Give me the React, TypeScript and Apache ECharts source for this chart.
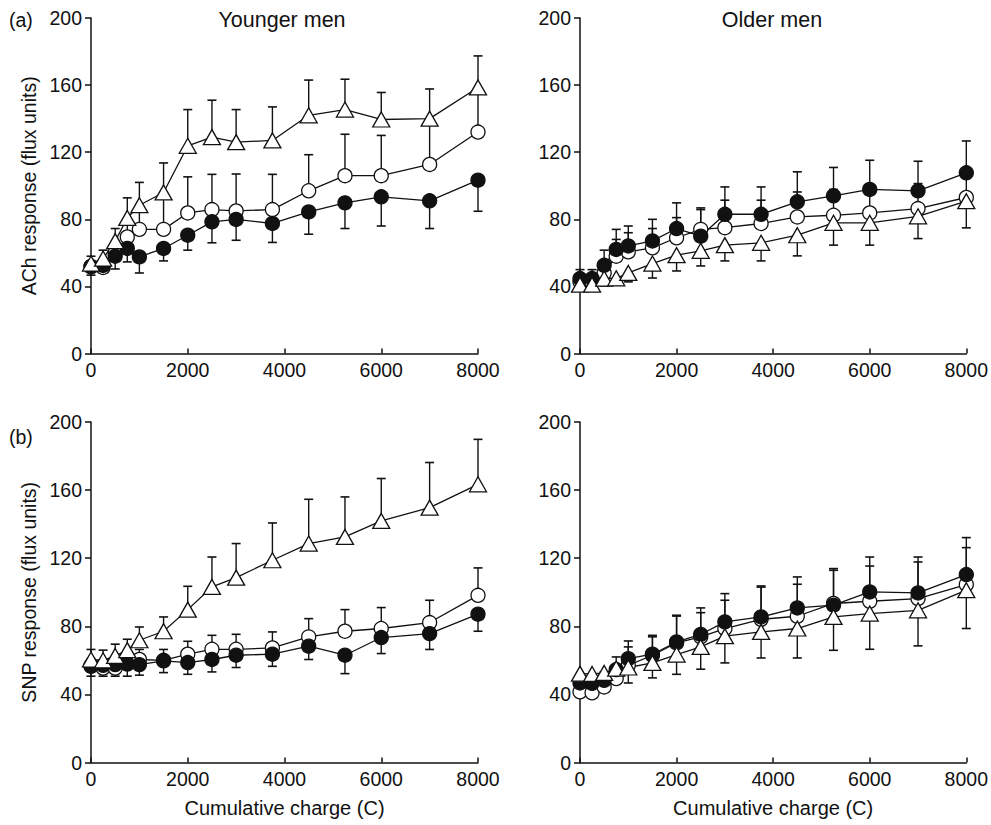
import React, { useEffect, useRef } from "react";
import * as echarts from "echarts";

// Cumulative charge (C) at which responses were measured
const CHARGE = [0, 250, 500, 750, 1000, 1500, 2000, 2500, 3000, 3750, 4500, 5250, 6000, 7000, 8000];

// (a) ACh response, younger men
const A_YOUNG_OPEN = [51.6, 51.3, 60, 69.5, 74, 74, 83.8, 85.8, 85, 85.8, 97, 106, 106, 112.7, 132];
const A_YOUNG_OPEN_SE = [3, 3, 5, 10, 12, 22, 21.5, 21, 22, 21, 21.5, 24.7, 24, 27, 24];
const A_YOUNG_FILLED = [52, 52.5, 58, 62.6, 57.6, 62.6, 70.5, 78.5, 79.9, 77.5, 84.4, 89.8, 93.4, 91, 103.3];
const A_YOUNG_FILLED_SE = [5.3, 4.5, 7.6, 8, 9.6, 7.4, 8.9, 12.5, 12.4, 11.3, 13.3, 15.3, 17.4, 16.5, 18.5];
const A_YOUNG_TRI = [53.6, 56.6, 67, 80.8, 88.4, 96, 123.8, 129, 126, 127, 142, 145.4, 139.5, 140, 158.6];
const A_YOUNG_TRI_SE = [4.4, 5, 7.5, 12, 13.6, 17.6, 21.6, 22, 19.4, 20, 21, 18.1, 16.1, 17.7, 18.8];

// (a) ACh response, older men
const A_OLD_OPEN = [42.7, 42.7, 48, 58, 60.6, 63, 69, 74, 75, 77.5, 81.4, 82.4, 83.8, 86.4, 93];
const A_OLD_OPEN_SE = [4, 4, 6, 10, 11.4, 11.5, 12, 11.8, 16.4, 13.9, 14.9, 15.4, 14, 14.9, 14];
const A_OLD_FILLED = [44.7, 44.7, 52.6, 62, 64.1, 67.1, 74.5, 69.9, 83, 83, 90.4, 94, 97.8, 97, 107.7];
const A_OLD_FILLED_SE = [5.3, 5.3, 9, 12, 11.9, 12.9, 15.3, 16.9, 16.3, 16.3, 17.9, 16.9, 17.4, 17.6, 19];
const A_OLD_TRI = [41, 41, 44.7, 44.8, 48, 53.6, 58.6, 61.2, 64.6, 66, 70.5, 77.9, 77.9, 81.8, 90.8];
const A_OLD_TRI_SE = [3.7, 3.5, 4.4, 3.8, 5.3, 8.6, 9.4, 9, 9.4, 10.8, 12.3, 13.3, 13.3, 13.3, 15.9];

// (b) SNP response, younger men
const B_YOUNG_OPEN = [57, 55.5, 55.5, 58.5, 60.5, 60, 63.6, 66.5, 66.5, 67.3, 73.8, 77.1, 78.7, 82.2, 98.2];
const B_YOUNG_OPEN_SE = [4, 4, 4, 5, 5.9, 6.4, 7.6, 8.2, 8.8, 9.4, 10.7, 12.7, 12.3, 13.1, 16.1];
const B_YOUNG_FILLED = [56.5, 57.1, 57.5, 57.8, 57.5, 59.7, 58.7, 60.5, 63, 63.6, 68.3, 63, 73.4, 75.7, 87.1];
const B_YOUNG_FILLED_SE = [5.8, 6.4, 6.8, 7.1, 6.2, 6.9, 6.9, 7.3, 7.2, 7.1, 7.8, 10.8, 9.4, 9.3, 10];
const B_YOUNG_TRI = [60.5, 60, 62.6, 66, 71.8, 77.1, 89.8, 103.1, 108.6, 118.8, 128.6, 132.5, 141.9, 149.7, 163.4];
const B_YOUNG_TRI_SE = [5.9, 6, 6.9, 6.4, 7.8, 8.4, 13.7, 17.6, 20, 21.9, 26, 23.5, 24.9, 26.5, 26.4];

// (b) SNP response, older men
const B_OLD_OPEN = [41.5, 40.9, 44.4, 49.3, 57.1, 63, 70.2, 73.8, 78.7, 84.1, 85.9, 93.4, 94.7, 96.3, 104.5];
const B_OLD_OPEN_SE = [4, 4, 4.5, 6, 10.8, 10.8, 15.8, 14.2, 16.6, 18.9, 18.8, 19.5, 20.7, 21.5, 21.7];
const B_OLD_FILLED = [46.7, 46.5, 48.3, 54.6, 61, 63.6, 70.8, 75.2, 82.6, 85.5, 90.8, 92.4, 100.2, 99.6, 110.4];
const B_OLD_FILLED_SE = [4, 4, 5, 7.4, 10.4, 11.1, 15.7, 15.6, 16.6, 18.2, 18.2, 21.5, 20.5, 21.1, 21.7];
const B_OLD_TRI = [52.2, 52, 52.6, 55.2, 55.8, 58.5, 63.4, 67.9, 74.2, 76.7, 78.7, 85.5, 87.5, 89.4, 101.2];
const B_OLD_TRI_SE = [4, 4, 4, 6, 9.1, 8.8, 11.6, 13.1, 15.7, 15.3, 17.3, 19.6, 21, 20.9, 22.5];

const PANEL_TITLES = ["Younger men", "Older men"];
const PANEL_LETTERS = ["(a)", "(b)"];
const Y_NAMES = ["ACh response (flux units)", "SNP response (flux units)"];
const X_NAME = "Cumulative charge (C)";

type SeriesSpec = { values: number[]; se: number[]; dir: number; kind: "open" | "filled" | "tri" };

const PANELS: SeriesSpec[][] = [
  [
    { values: A_YOUNG_OPEN, se: A_YOUNG_OPEN_SE, dir: 1, kind: "open" },
    { values: A_YOUNG_FILLED, se: A_YOUNG_FILLED_SE, dir: -1, kind: "filled" },
    { values: A_YOUNG_TRI, se: A_YOUNG_TRI_SE, dir: 1, kind: "tri" },
  ],
  [
    { values: A_OLD_OPEN, se: A_OLD_OPEN_SE, dir: 1, kind: "open" },
    { values: A_OLD_FILLED, se: A_OLD_FILLED_SE, dir: 1, kind: "filled" },
    { values: A_OLD_TRI, se: A_OLD_TRI_SE, dir: -1, kind: "tri" },
  ],
  [
    { values: B_YOUNG_OPEN, se: B_YOUNG_OPEN_SE, dir: 1, kind: "open" },
    { values: B_YOUNG_FILLED, se: B_YOUNG_FILLED_SE, dir: -1, kind: "filled" },
    { values: B_YOUNG_TRI, se: B_YOUNG_TRI_SE, dir: 1, kind: "tri" },
  ],
  [
    { values: B_OLD_OPEN, se: B_OLD_OPEN_SE, dir: 1, kind: "open" },
    { values: B_OLD_FILLED, se: B_OLD_FILLED_SE, dir: 1, kind: "filled" },
    { values: B_OLD_TRI, se: B_OLD_TRI_SE, dir: -1, kind: "tri" },
  ],
];

const INK = "#111";
const FONT = "Liberation Sans, Arial, sans-serif";

export default function App() {
  const ref = useRef<HTMLDivElement>(null);
  useEffect(() => {
    if (!ref.current) return;
    const chart = echarts.init(ref.current, undefined, { renderer: "svg" });

    const grids = [
      { left: 91, top: 18, width: 387, height: 335.5 },
      { left: 580, top: 18, width: 387, height: 335.5 },
      { left: 91, top: 422, width: 387, height: 340.5 },
      { left: 580, top: 422, width: 387, height: 340.5 },
    ];

    const xAxis = grids.map((_, i) => ({
      type: "value",
      gridIndex: i,
      min: 0,
      max: 8000,
      interval: 2000,
      name: i >= 2 ? X_NAME : "",
      nameLocation: "middle",
      nameGap: 35,
      nameTextStyle: { fontSize: 20, color: INK, fontFamily: FONT },
      axisLine: { lineStyle: { color: INK, width: 1.5 } },
      axisTick: { inside: true, length: 5, lineStyle: { color: INK, width: 1.5 } },
      axisLabel: {
        fontSize: 19.5,
        color: INK,
        fontFamily: FONT,
        margin: 6,
        formatter: (v: number) => String(v),
      },
      splitLine: { show: false },
    }));

    const yAxis = grids.map((_, i) => ({
      type: "value",
      gridIndex: i,
      min: 0,
      max: 200,
      interval: 40,
      name: i % 2 === 0 ? Y_NAMES[Math.floor(i / 2)] : "",
      nameLocation: "middle",
      nameGap: 52,
      nameTextStyle: { fontSize: 19.5, color: INK, fontFamily: FONT },
      axisLine: { show: true, lineStyle: { color: INK, width: 1.5 } },
      axisTick: { show: true, inside: false, length: 6, lineStyle: { color: INK, width: 1.5 } },
      axisLabel: {
        fontSize: 19.5,
        color: INK,
        fontFamily: FONT,
        margin: 9,
        formatter: (v: number) => String(v),
      },
      splitLine: { show: false },
    }));

    const renderErr = (params: any, api: any) => {
      const x = api.value(0);
      const m = api.value(1);
      const e = api.value(2);
      const p0 = api.coord([x, m]);
      const p1 = api.coord([x, e]);
      return {
        type: "group",
        children: [
          {
            type: "line",
            shape: { x1: p0[0], y1: p0[1], x2: p0[0], y2: p1[1] },
            style: { stroke: INK, lineWidth: 1.4 },
          },
          {
            type: "line",
            shape: { x1: p0[0] - 4.5, y1: p1[1], x2: p0[0] + 4.5, y2: p1[1] },
            style: { stroke: INK, lineWidth: 1.6 },
          },
        ],
      };
    };

    const series: any[] = [];
    PANELS.forEach((panel, pi) => {
      panel.forEach((s) => {
        const pts = CHARGE.map((c, k) => [c, s.values[k]]);
        series.push({
          type: "custom",
          xAxisIndex: pi,
          yAxisIndex: pi,
          data: CHARGE.map((c, k) => [c, s.values[k], s.values[k] + s.dir * s.se[k]]),
          renderItem: renderErr,
          encode: { x: 0, y: [1, 2] },
          z: 1,
          silent: true,
        });
        series.push({
          type: "line",
          xAxisIndex: pi,
          yAxisIndex: pi,
          data: pts,
          symbol: "none",
          showSymbol: false,
          lineStyle: { color: INK, width: 1.3 },
          z: 2,
          silent: true,
        });
      });
      panel.forEach((s) => {
        const pts = CHARGE.map((c, k) => [c, s.values[k]]);
        const isTri = s.kind === "tri";
        series.push({
          type: "scatter",
          xAxisIndex: pi,
          yAxisIndex: pi,
          data: pts,
          symbol: isTri ? "triangle" : "circle",
          symbolSize: isTri ? [17, 15] : 14,
          itemStyle: {
            color: s.kind === "filled" ? INK : "#fff",
            borderColor: INK,
            borderWidth: 1.3,
            opacity: 1,
          },
          z: s.kind === "open" ? 3 : s.kind === "filled" ? 4 : 5,
          silent: true,
        });
      });
    });

    const textEl = (t: string, x: number, y: number, align: string, size: number) => ({
      type: "text",
      x,
      y,
      style: {
        text: t,
        fontSize: size,
        fill: INK,
        fontFamily: FONT,
        textAlign: align,
        textVerticalAlign: "middle",
      },
    });

    const graphic = [
      textEl(PANEL_TITLES[0], 282, 20, "center", 21.5),
      textEl(PANEL_TITLES[1], 772, 20, "center", 21.5),
      textEl(PANEL_LETTERS[0], 9, 20, "left", 19.5),
      textEl(PANEL_LETTERS[1], 9, 437, "left", 19.5),
    ];

    chart.setOption({
      animation: false,
      backgroundColor: "#fff",
      grid: grids,
      xAxis,
      yAxis,
      series,
      graphic,
    });
    return () => chart.dispose();
  }, []);

  return (
    <div
      ref={ref}
      style={{ position: "fixed", left: 0, top: 0, width: 991, height: 825, background: "#fff" }}
    />
  );
}
